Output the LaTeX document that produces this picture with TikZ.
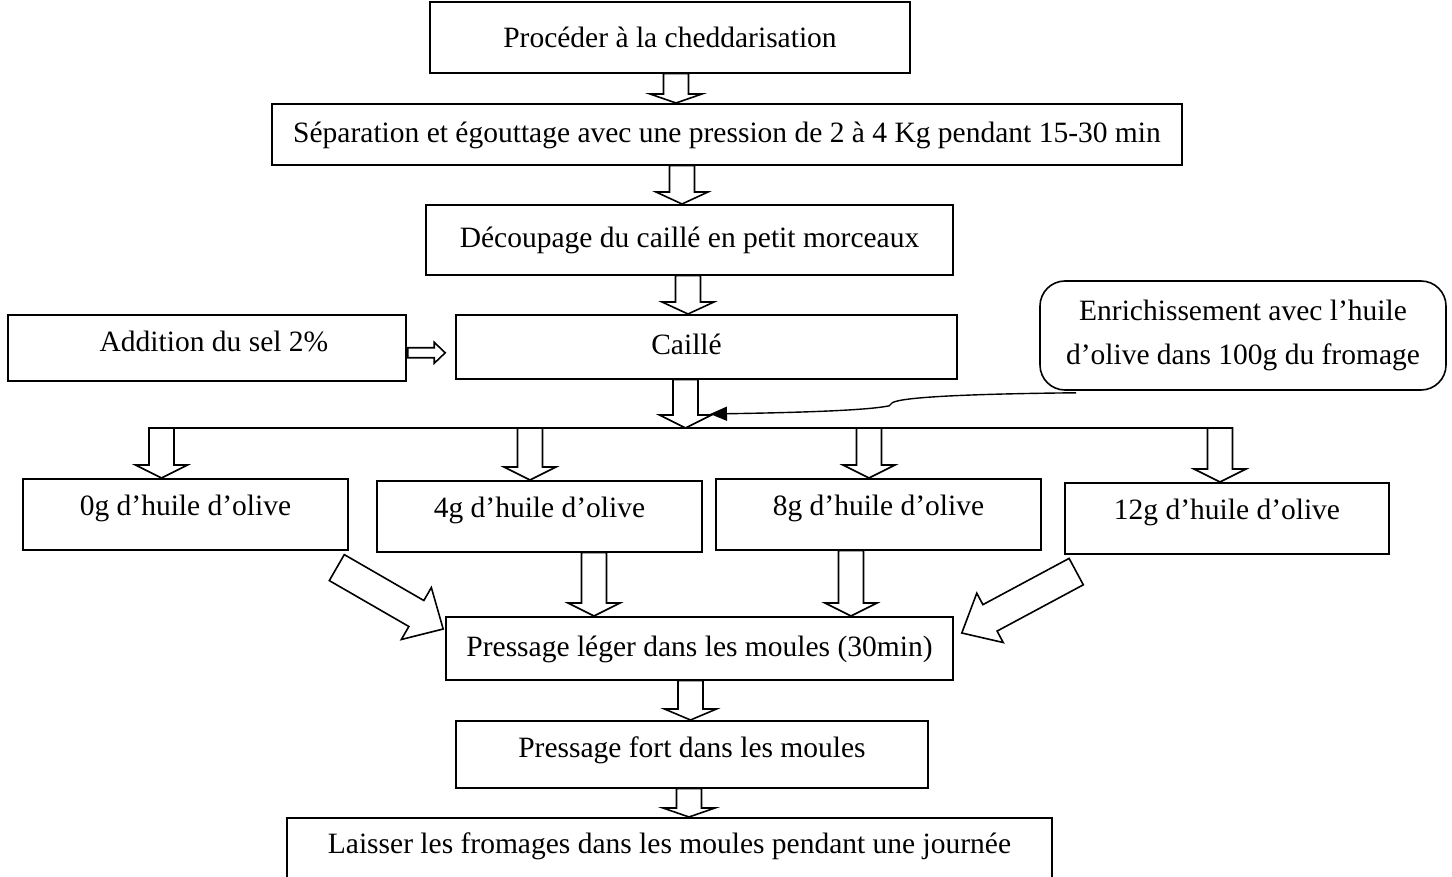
\documentclass[tikz,border=0pt]{standalone}
\usepackage{fontspec}
\setmainfont{Liberation Serif}
\usetikzlibrary{calc,arrows.meta}
\newcommand{\fsz}{\fontsize{29.5}{44}\selectfont}
\newcommand{\blkarrow}[5]{%
  \coordinate (bH) at ($(#2)!#5!(#1)$);
  \draw[barrowline] ($(#1)!#3!90:(#2)$) -- ($(bH)!#3!90:(#2)$) -- ($(bH)!#4!90:(#2)$) -- (#2) -- ($(bH)!#4!-90:(#2)$) -- ($(bH)!#3!-90:(#2)$) -- ($(#1)!#3!-90:(#2)$) -- cycle;}
\begin{document}
\begin{tikzpicture}[x=1pt,y=-1pt,
  box/.style={draw, line width=1.6pt, inner sep=0pt, font=\fsz, anchor=north},
  barrowline/.style={draw, line width=1.6pt, fill=white, line join=miter},
  linkline/.style={line width=1.4pt}]
\useasboundingbox (0,0) rectangle (1452,877);

% boxes
\node[box, minimum width=480pt, text height=46pt, text depth=25pt] (b1) at (670,1) {Procéder à la cheddarisation};
\node[box, minimum width=910pt, text height=39pt, text depth=22pt] (b2) at (727,103) {Séparation et égouttage avec une pression de 2 à 4 Kg pendant 15-30 min};
\node[box, minimum width=527pt, text height=43pt, text depth=27pt] (b3) at (689.5,204) {Découpage du caillé en petit morceaux};
\node[box, minimum width=398pt, text height=37pt, text depth=29pt] (add) at (207,314) {\hspace*{14pt}Addition du sel 2\%};
\node[box, minimum width=501pt, text height=40pt, text depth=24pt] (cail) at (706.5,314) {Caillé\hspace*{40pt}};
\node[draw, line width=1.6pt, rounded corners=25pt, minimum width=406pt, minimum height=109pt, align=center, font=\fsz, inner sep=0pt] (enr) at (1243,335.5) {Enrichissement avec l’huile\\d’olive dans 100g du fromage};
\node[box, minimum width=325pt, text height=37pt, text depth=34pt] (b0g) at (185.5,478) {0g d’huile d’olive};
\node[box, minimum width=325pt, text height=37pt, text depth=34pt] (b4g) at (539.5,480) {4g d’huile d’olive};
\node[box, minimum width=325pt, text height=37pt, text depth=34pt] (b8g) at (878.5,478) {8g d’huile d’olive};
\node[box, minimum width=324pt, text height=37pt, text depth=34pt] (b12g) at (1227,482) {12g d’huile d’olive};
\node[box, minimum width=507pt, text height=40pt, text depth=23pt] (pl) at (699.5,616) {Pressage léger dans les moules (30min)};
\node[box, minimum width=472pt, text height=37pt, text depth=30pt] (pf) at (692,720) {Pressage fort dans les moules};
\node[box, minimum width=765pt, text height=36pt, text depth=28pt] (las) at (669.5,817) {Laisser les fromages dans les moules pendant une journée};

% vertical block arrows in the main chain
\coordinate (a1s) at ($(b1.south)+(6,0)$);   \coordinate (a1e) at (a1s |- b2.north);
\blkarrow{a1s}{a1e}{12.5pt}{26pt}{9pt}
\coordinate (a2s) at ($(b2.south)+(-45,0)$); \coordinate (a2e) at (a2s |- b3.north);
\blkarrow{a2s}{a2e}{12.5pt}{26pt}{12pt}
\coordinate (a3s) at ($(b3.south)+(-1.5,0)$); \coordinate (a3e) at (a3s |- cail.north);
\blkarrow{a3s}{a3e}{12.5pt}{26pt}{12pt}

% distribution line
\coordinate (lnL) at (174,428);
\coordinate (lnR) at (1222,428);
\draw[linkline] (lnL) -- (lnR);

\coordinate (a4s) at ($(cail.south)+(-21,0)$); \coordinate (a4e) at (a4s |- lnL);
\blkarrow{a4s}{a4e}{12.5pt}{26pt}{13pt}

% arrows to the four boxes
\coordinate (t0e) at ($(b0g.north)+(-24,0)$);  \coordinate (t0s) at (t0e |- lnL);
\blkarrow{t0s}{t0e}{12.5pt}{26pt}{13pt}
\coordinate (t4e) at ($(b4g.north)+(-9.5,0)$);  \coordinate (t4s) at (t4e |- lnL);
\blkarrow{t4s}{t4e}{12.5pt}{26pt}{13pt}
\coordinate (t8e) at ($(b8g.north)+(-9.5,0)$);  \coordinate (t8s) at (t8e |- lnL);
\blkarrow{t8s}{t8e}{12.5pt}{26pt}{13pt}
\coordinate (t12e) at ($(b12g.north)+(-7,0)$);  \coordinate (t12s) at (t12e |- lnL);
\blkarrow{t12s}{t12e}{12.5pt}{26pt}{13pt}

% addition -> caille
\coordinate (ads) at ($(add.east)+(1,5)$);
\coordinate (ade) at ($(cail.west)+(-10,6)$);
\blkarrow{ads}{ade}{5pt}{10.5pt}{11pt}

% enrichment curve
\coordinate (cs) at ($(enr.south west)+(37,2)$);
\coordinate (ce) at ($(a4e)+(24.5,-14)$);
\draw[linkline, -{Triangle[length=17pt,width=14pt]}] (cs) .. controls ($(cs)+(-100,1)$) and ($(cs)+(-175,4)$) .. ($(cs)+(-184,10)$) -- ($(cs)+(-187,13)$) .. controls ($(cs)+(-210,18)$) and ($(cs)+(-290,20)$) .. (ce);

% arrows to pressage leger
\coordinate (p4s) at ($(b4g.south)+(54.5,0)$); \coordinate (p4e) at (p4s |- pl.north);
\blkarrow{p4s}{p4e}{12.5pt}{26pt}{13pt}
\coordinate (p8s) at ($(b8g.south)+(-27.5,0)$); \coordinate (p8e) at (p8s |- pl.north);
\blkarrow{p8s}{p8e}{12.5pt}{26pt}{13pt}
\coordinate (d0s) at ($(b0g.south east)+(-12,17)$);
\coordinate (d0e) at ($(pl.north west)+(-2,13)$);
\blkarrow{d0s}{d0e}{15pt}{30pt}{31pt}
\coordinate (d12s) at ($(b12g.south west)+(12,17)$);
\coordinate (d12e) at ($(pl.north east)+(8,17)$);
\blkarrow{d12s}{d12e}{15pt}{28pt}{32pt}

% lower chain
\coordinate (a5s) at ($(pl.south)+(-9,0)$); \coordinate (a5e) at (a5s |- pf.north);
\blkarrow{a5s}{a5e}{12.5pt}{26pt}{11pt}
\coordinate (a6s) at ($(pf.south)+(-3,0)$); \coordinate (a6e) at (a6s |- las.north);
\blkarrow{a6s}{a6e}{12.5pt}{26pt}{9pt}
\end{tikzpicture}
\end{document}
